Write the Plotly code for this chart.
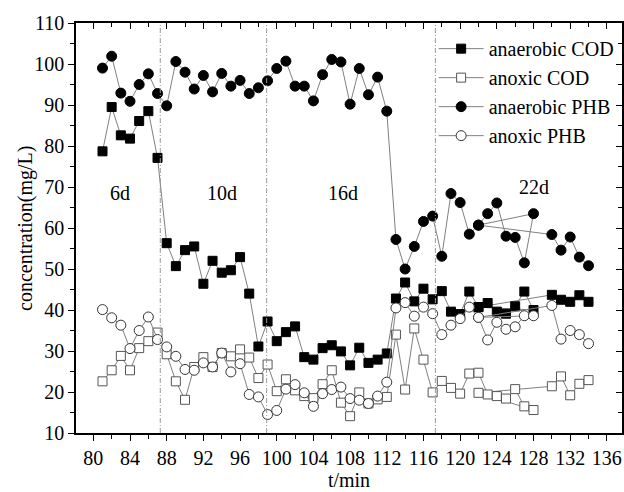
import plotly.graph_objects as go

# sampling times (min); note the original series revisits t=122 after t=128
t = [81, 82, 83, 84, 85, 86, 87, 88, 89, 90, 91, 92, 93, 94, 95, 96, 97, 98, 99, 100,
     101, 102, 103, 104, 105, 106, 107, 108, 109, 110, 111, 112, 113, 114, 115, 116,
     117, 118, 119, 120, 121, 122, 123, 124, 125, 126, 127, 128, 122, 130, 131, 132, 133, 134]

anaerobic_cod = [78.7, 89.5, 82.6, 81.8, 86.1, 88.5, 77.1, 56.3, 50.7, 54.6, 55.5, 46.4, 52.0, 49.1,
                 49.7, 52.9, 44.0, 31.1, 37.2, 32.4, 34.6, 36.0, 28.5, 27.9, 30.7, 31.4, 29.9, 26.5,
                 30.8, 27.1, 27.9, 29.4, 42.8, 46.7, 42.1, 45.2, 42.6, 44.6, 39.6, 39.0, 44.5, 40.7,
                 41.7, 39.6, 39.1, 40.9, 44.5, 40.0, 40.7, 43.7, 42.5, 42.0, 43.6, 42.0]

anoxic_cod = [22.6, 25.3, 28.8, 25.3, 30.7, 32.4, 34.5, 29.2, 22.6, 18.1, 26.1, 28.5, 26.1, 29.5,
              28.7, 30.4, 28.4, 23.4, 26.7, 20.2, 23.1, 20.4, 19.0, 18.5, 21.9, 25.3, 17.4, 14.1,
              19.9, 17.2, 18.2, 18.8, 34.0, 20.6, 35.5, 27.9, 19.9, 22.7, 21.0, 19.6, 24.5, 24.7,
              19.4, 19.0, 18.4, 20.7, 16.5, 15.6, 19.8, 21.4, 23.8, 19.2, 22.0, 22.9]

anaerobic_phb = [99.0, 101.9, 92.9, 90.9, 95.0, 97.6, 92.8, 89.8, 100.6, 98.0, 93.9, 97.2, 93.2, 97.7,
                 94.6, 96.0, 92.8, 94.2, 95.9, 98.9, 100.7, 94.6, 94.6, 91.0, 97.4, 101.1, 100.5, 90.2,
                 98.9, 92.5, 96.8, 88.5, 57.2, 50.0, 55.5, 61.6, 62.9, 53.1, 68.4, 66.2, 58.5, 60.7,
                 63.5, 66.1, 58.0, 57.7, 51.5, 63.5, 60.7, 58.4, 54.6, 57.8, 52.9, 50.8]

anoxic_phb = [40.1, 38.1, 36.3, 30.6, 35.0, 38.3, 32.8, 31.0, 28.7, 25.5, 25.3, 27.1, 26.1, 29.5,
              24.9, 26.9, 19.4, 18.8, 14.5, 15.5, 20.7, 21.8, 19.8, 16.5, 19.6, 20.6, 21.2, 18.4,
              18.0, 17.2, 19.0, 22.4, 40.5, 41.8, 38.5, 40.7, 39.1, 34.0, 36.3, 37.9, 40.7, 38.2,
              32.7, 37.0, 35.3, 35.9, 38.6, 38.6, 38.2, 41.1, 32.9, 35.0, 34.0, 31.8]

phase_boundaries = [87.3, 98.9, 117.3]
phase_labels = ["6d", "10d", "16d", "22d"]
phase_label_x = [82.9, 94.0, 107.2, 128.0]
phase_label_y = [68.5, 68.5, 68.5, 70.0]

FONT = "Liberation Serif, Times New Roman, serif"
LINE = dict(color="#808080", width=1)

fig = go.Figure()
fig.add_trace(go.Scatter(x=t, y=anaerobic_cod, name="anaerobic COD", mode="lines+markers",
                         line=LINE, marker=dict(symbol="square", size=9, color="black",
                                                line=dict(color="black", width=1))))
fig.add_trace(go.Scatter(x=t, y=anoxic_cod, name="anoxic COD", mode="lines+markers",
                         line=LINE, marker=dict(symbol="square", size=9, color="white",
                                                line=dict(color="#555555", width=1))))
fig.add_trace(go.Scatter(x=t, y=anaerobic_phb, name="anaerobic PHB", mode="lines+markers",
                         line=LINE, marker=dict(symbol="circle", size=10, color="black",
                                                line=dict(color="black", width=1))))
fig.add_trace(go.Scatter(x=t, y=anoxic_phb, name="anoxic PHB", mode="lines+markers",
                         line=LINE, marker=dict(symbol="circle", size=10, color="white",
                                                line=dict(color="#333333", width=1))))
# dummy trace to activate mirrored (top/right) axes
fig.add_trace(go.Scatter(x=[None], y=[None], xaxis="x2", yaxis="y2", showlegend=False,
                         hoverinfo="skip"))

for xb in phase_boundaries:
    fig.add_shape(type="line", x0=xb, x1=xb, y0=0, y1=1, xref="x", yref="paper",
                  line=dict(color="#999999", width=1, dash="5px,2px,1px,2px"))

for lab, lx, ly in zip(phase_labels, phase_label_x, phase_label_y):
    fig.add_annotation(x=lx, y=ly, text=lab, showarrow=False,
                       font=dict(family=FONT, size=20, color="black"))

# y-axis title as a rotated annotation (placed like the original)
fig.add_annotation(x=0, y=0.5, xref="paper", yref="paper", text="concentration(mg/L)",
                   textangle=-90, showarrow=False, xanchor="center", yanchor="middle",
                   xshift=-51, font=dict(family=FONT, size=20, color="black"))

XR = [78.11, 137.65]
YR = [10, 110]

fig.update_layout(
    width=624, height=492,
    margin=dict(l=76, r=2, t=23, b=59, autoexpand=False),
    paper_bgcolor="white", plot_bgcolor="white",
    font=dict(family=FONT, size=20, color="black"),
    showlegend=True,
    legend=dict(x=0.655, y=0.985, xanchor="left", yanchor="top",
                bgcolor="rgba(0,0,0,0)", font=dict(family=FONT, size=20),
                tracegroupgap=0, itemwidth=45),
    xaxis=dict(range=XR, tick0=80, dtick=4, ticks="outside", ticklen=6, tickwidth=1.2,
               tickcolor="black", showline=True, linecolor="black", linewidth=1.5,
               showgrid=False, zeroline=False, automargin=False,
               minor=dict(dtick=2, tick0=80, ticks="outside", ticklen=4, tickcolor="black",
                          tickwidth=1),
               title=dict(text="t/min", font=dict(size=20), standoff=0),
               tickfont=dict(size=20)),
    yaxis=dict(range=YR, tick0=10, dtick=10, ticks="outside", ticklen=6, tickwidth=1.2,
               tickcolor="black", showline=True, linecolor="black", linewidth=1.5,
               showgrid=False, zeroline=False, automargin=False,
               minor=dict(dtick=5, tick0=10, ticks="outside", ticklen=4, tickcolor="black",
                          tickwidth=1),
               tickfont=dict(size=20)),
    xaxis2=dict(range=XR, overlaying="x", side="top", tick0=80, dtick=4, ticks="inside",
                ticklen=6, tickcolor="black", showticklabels=False, showline=True,
                linecolor="black", linewidth=1.5, showgrid=False, zeroline=False,
                automargin=False,
                minor=dict(dtick=2, tick0=80, ticks="inside", ticklen=4, tickcolor="black")),
    yaxis2=dict(range=YR, overlaying="y", side="right", tick0=10, dtick=10, ticks="inside",
                ticklen=6, tickcolor="black", showticklabels=False, showline=True,
                linecolor="black", linewidth=1.5, showgrid=False, zeroline=False,
                automargin=False,
                minor=dict(dtick=5, tick0=10, ticks="inside", ticklen=4, tickcolor="black")),
)

fig.write_html("out.html", config={"displayModeBar": False},
               post_script="document.body.style.margin='0px';document.body.style.padding='0px';")
